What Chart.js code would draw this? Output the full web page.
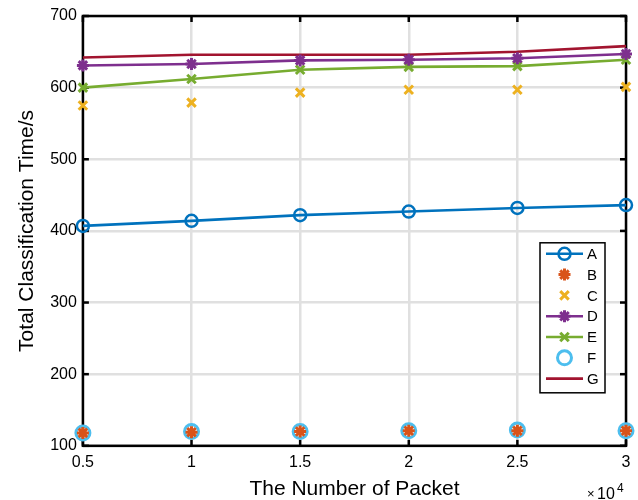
<!DOCTYPE html>
<html>
<head>
<meta charset="utf-8">
<script src="https://cdn.jsdelivr.net/npm/chart.js@4.4.1/dist/chart.umd.min.js"></script>
<style>
  html, body { margin: 0; padding: 0; background: #fff; }
  #wrap { width: 638px; height: 500px; }
</style>
</head>
<body>
<div id="wrap"><canvas id="chart" width="638" height="500"></canvas></div>
<script>
// x values are in units of 10^4 packets
const packets = [0.5, 1, 1.5, 2, 2.5, 3];
const seriesNames = ['A', 'B', 'C', 'D', 'E', 'F', 'G'];
const valuesA = [407, 414, 422, 427, 432, 436];
const valuesB = [118, 119, 120, 121, 121, 121];
const valuesC = [575, 579, 593, 597, 597, 601];
const valuesD = [631, 633, 638, 639, 641, 647];
const valuesE = [600, 612, 625, 629, 630, 639];
const valuesF = [118, 120, 120, 121, 122, 121];
const valuesG = [642, 646, 646, 646, 650, 658];
const xTicks = [0.5, 1, 1.5, 2, 2.5, 3];
const yTicks = [100, 200, 300, 400, 500, 600, 700];

const FONT = 'Liberation Sans, Arial, Helvetica, sans-serif';

const toPoints = vals => vals.map((v, i) => ({ x: packets[i], y: v }));

const styles = [
    { color: '#0072BD', line: true,  pointStyle: 'circle',   radius: 6, bw: 2.5, fill: '#ffffff00' },
    { color: '#D95319', line: false, pointStyle: 'star',     radius: 6, bw: 3,   fill: '#D95319' },
    { color: '#EDB120', line: false, pointStyle: 'crossRot', radius: 6, bw: 3,   fill: '#EDB120' },
    { color: '#7E2F8E', line: true,  pointStyle: 'star',     radius: 6, bw: 3,   fill: '#7E2F8E' },
    { color: '#77AC30', line: true,  pointStyle: 'crossRot', radius: 6, bw: 3,   fill: '#77AC30' },
    { color: '#4DBEEE', line: false, pointStyle: 'circle',   radius: 7, bw: 3,   fill: '#ffffff00' },
    { color: '#A2142F', line: true,  pointStyle: false,      radius: 0, bw: 0,   fill: '#A2142F' }
];
const allValues = [valuesA, valuesB, valuesC, valuesD, valuesE, valuesF, valuesG];

const datasets = seriesNames.map((name, i) => {
    const s = styles[i];
    return {
        label: name,
        data: toPoints(allValues[i]),
        borderColor: s.color,
        backgroundColor: s.fill,
        showLine: s.line,
        borderWidth: 2.6,
        pointStyle: s.pointStyle,
        pointRadius: s.radius,
        pointBorderWidth: s.bw,
        pointBorderColor: s.color,
        pointBackgroundColor: s.fill,
        pointHoverRadius: s.radius,
        clip: false,
        tension: 0
    };
});

const framePlugin = {
    id: 'frame',
    beforeDatasetsDraw(chart) {
        const { ctx, chartArea: a, scales } = chart;
        ctx.save();
        ctx.strokeStyle = '#000';
        ctx.lineWidth = 2.5;
        ctx.strokeRect(a.left, a.top, a.right - a.left, a.bottom - a.top);
        // inward ticks
        xTicks.forEach(t => {
            const x = scales.x.getPixelForValue(t);
            ctx.beginPath(); ctx.moveTo(x, a.bottom); ctx.lineTo(x, a.bottom - 6); ctx.stroke();
            ctx.beginPath(); ctx.moveTo(x, a.top); ctx.lineTo(x, a.top + 6); ctx.stroke();
        });
        yTicks.forEach(t => {
            const y = scales.y.getPixelForValue(t);
            ctx.beginPath(); ctx.moveTo(a.left, y); ctx.lineTo(a.left + 6, y); ctx.stroke();
            ctx.beginPath(); ctx.moveTo(a.right, y); ctx.lineTo(a.right - 6, y); ctx.stroke();
        });
        ctx.restore();
    },
    afterDatasetsDraw(chart) {
        const { ctx, chartArea: a } = chart;
        ctx.save();
        // x10^4
        ctx.fillStyle = '#000';
        ctx.textBaseline = 'alphabetic';
        ctx.font = '13px ' + FONT;
        ctx.fillText('\u00d7', a.right - 39, chart.height - 2);
        ctx.font = '16px ' + FONT;
        ctx.fillText('10', a.right - 29, chart.height - 1);
        ctx.font = '12px ' + FONT;
        ctx.fillText('4', a.right - 9, chart.height - 8);

        // legend
        const lw = 65, lh = 150;
        const lx = a.right - 21 - lw, ly = a.bottom - 53 - lh;
        ctx.fillStyle = '#fff';
        ctx.fillRect(lx, ly, lw, lh);
        ctx.strokeStyle = '#000';
        ctx.lineWidth = 1.5;
        ctx.strokeRect(lx, ly, lw, lh);
        chart.data.datasets.forEach((ds, i) => {
            const y = ly + 11 + i * 20.8;
            const s = styles[i];
            if (s.line) {
                ctx.strokeStyle = s.color;
                ctx.lineWidth = 2.6;
                ctx.beginPath(); ctx.moveTo(lx + 6, y); ctx.lineTo(lx + 43, y); ctx.stroke();
            }
            if (s.pointStyle) {
                ctx.strokeStyle = s.color;
                ctx.fillStyle = s.fill;
                ctx.lineWidth = s.bw;
                Chart.helpers.drawPoint(ctx, { pointStyle: s.pointStyle, radius: s.radius, borderWidth: s.bw, rotation: 0 }, lx + 24.5, y);
            }
            ctx.fillStyle = '#000';
            ctx.font = '15px ' + FONT;
            ctx.textBaseline = 'middle';
            ctx.fillText(ds.label, lx + 47, y + 1);
        });
        ctx.restore();
    }
};

new Chart(document.getElementById('chart'), {
    type: 'scatter',
    data: { datasets: datasets },
    options: {
        responsive: false,
        animation: false,
        layout: { padding: { top: 16, right: 12, bottom: 0, left: 4 } },
        plugins: {
            legend: { display: false },
            tooltip: { enabled: false }
        },
        scales: {
            x: {
                type: 'linear',
                min: 0.5,
                max: 3,
                afterBuildTicks: axis => { axis.ticks = xTicks.map(v => ({ value: v })); },
                ticks: {
                    color: '#000',
                    font: { family: FONT, size: 16 },
                    padding: 7,
                    callback: v => String(v)
                },
                grid: { color: '#e0e0e0', lineWidth: 2.5, drawTicks: false },
                border: { display: false },
                title: {
                    display: true,
                    text: 'The Number of Packet',
                    color: '#000',
                    font: { family: FONT, size: 21, lineHeight: 1 },
                    padding: { top: 0, bottom: 0 }
                }
            },
            y: {
                min: 100,
                max: 700,
                afterBuildTicks: axis => { axis.ticks = yTicks.map(v => ({ value: v })); },
                ticks: {
                    color: '#000',
                    font: { family: FONT, size: 16 },
                    padding: 6
                },
                grid: { color: '#e0e0e0', lineWidth: 2.5, drawTicks: false },
                border: { display: false },
                title: {
                    display: true,
                    text: 'Total Classification Time/s',
                    color: '#000',
                    font: { family: FONT, size: 21 },
                    padding: { top: 11, bottom: 4 }
                }
            }
        }
    },
    plugins: [framePlugin]
});
</script>
</body>
</html>
